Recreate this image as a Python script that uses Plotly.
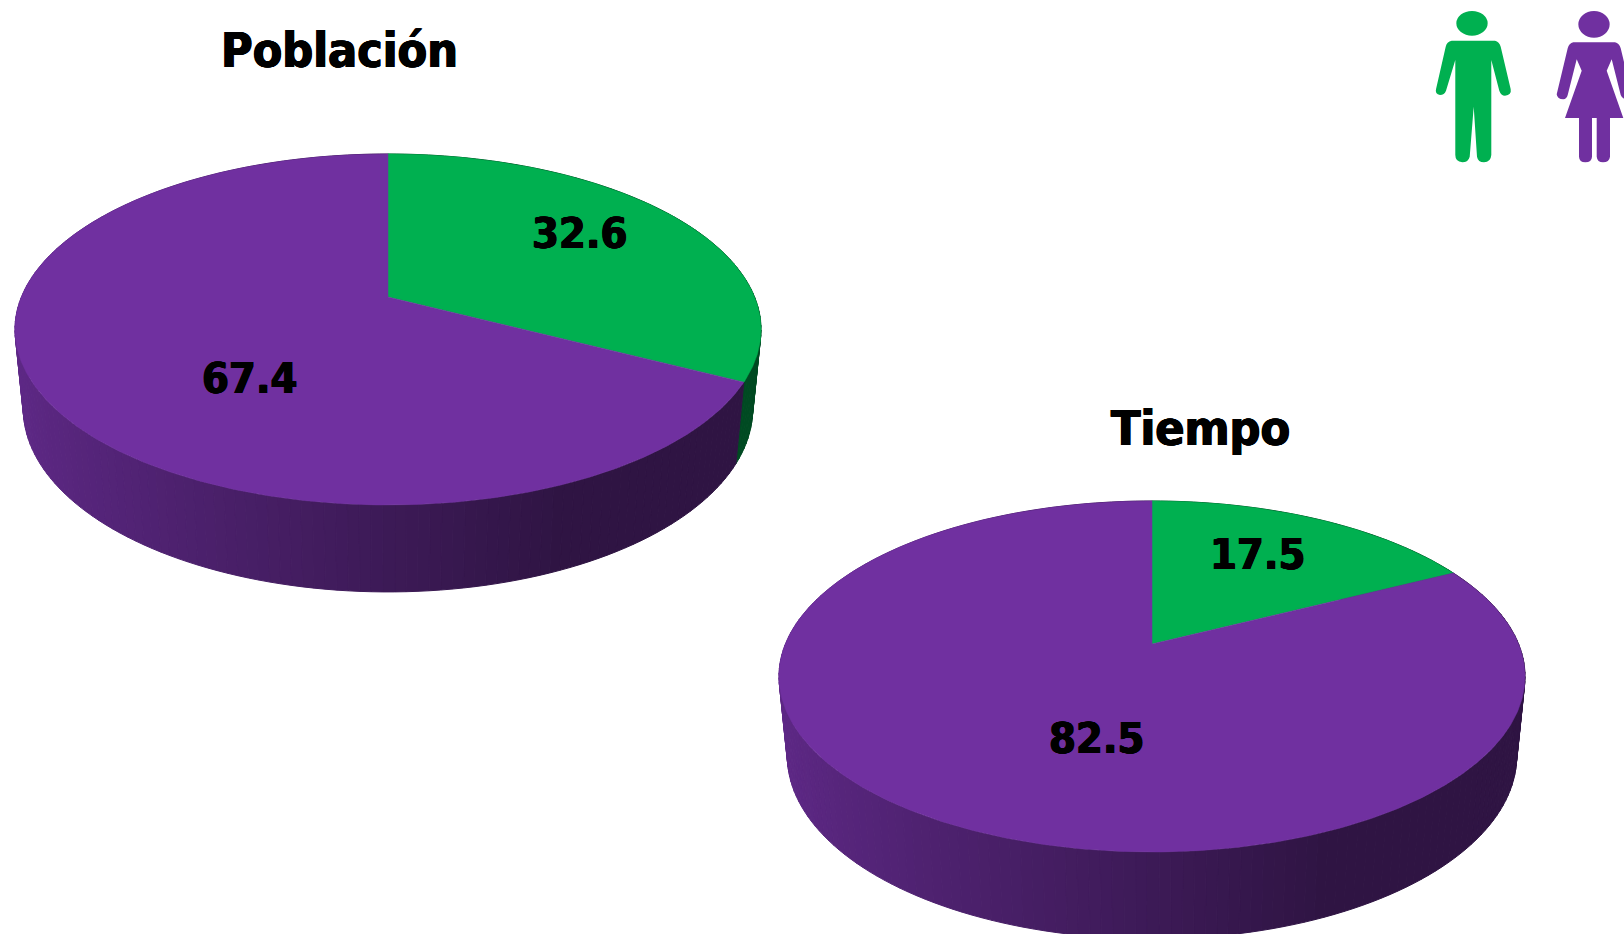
import numpy as np
import plotly.graph_objects as go

# ---- data ----
categories = ["Hombres", "Mujeres"]
titles = ["Población", "Tiempo"]
poblacion_values = [32.6, 67.4]
tiempo_values = [17.5, 82.5]

# ---- styles / layout ----
W, H = 1624, 934
GREEN, PURPLE = (0, 176, 80), (112, 48, 160)
BASE = [GREEN, PURPLE]
FONT = "DejaVu Sans Condensed, DejaVu Sans, sans-serif"
HEAVY = "0.7px 0 0 black, -0.7px 0 0 black, 0 0.4px 0 black, 0 -0.4px 0 black"
K = 0.185
TOP_S, TOP_T = 366.6, 169.5
LOW_S, LOW_T, LOW_DY = 358.4, 176.8, 78

pies = [
    dict(values=poblacion_values, title=titles[0], cx=388, cy=297,
         title_xy=(339, 50), label_xy=[(579, 233), (249, 378)]),
    dict(values=tiempo_values, title=titles[1], cx=1152, cy=644,
         title_xy=(1200, 428), label_xy=[(1257, 554), (1096, 738)]),
]


def project(theta, cx, cy, s, t, r=1.0):
    u, v = r * np.sin(theta), r * np.cos(theta)
    d = 1 + K * v
    return cx + s * u / d, cy - t * v / d


def rgb(c):
    return "rgb(%d,%d,%d)" % tuple(int(round(x)) for x in c)


def shade(base, x, cx):
    t = np.clip(((x - cx) / 373 + 1) / 1.39, 0, 1)
    f = 0.85 - 0.43 * t
    return rgb([b * f for b in base])


fig = go.Figure()
tops = []
annotations = []
for pie in pies:
    cx, cy = pie["cx"], pie["cy"]
    total = sum(pie["values"])
    edges = np.cumsum([0] + pie["values"]) / total * 2 * np.pi
    strips = []
    for i, base in enumerate(BASE):
        a0, a1 = edges[i], edges[i + 1]
        n = max(2, int((a1 - a0) / np.radians(1.5)))
        th = np.linspace(a0, a1, n + 1)
        for p, q in zip(th[:-1], th[1:]):
            mid = (p + q) / 2
            tx, ty = project(np.array([p, q]), cx, cy, TOP_S, TOP_T)
            bx, by = project(np.array([q, p]), cx, cy + LOW_DY, LOW_S, LOW_T)
            strips.append((np.cos(mid), list(tx) + list(bx) + [tx[0]],
                           list(ty) + list(by) + [ty[0]],
                           shade(base, cx + 373 * np.sin(mid), cx)))
        ang = np.linspace(a0, a1, max(3, int((a1 - a0) / np.radians(0.5))))
        ax, ay = project(ang, cx, cy, TOP_S, TOP_T)
        tops.append(([cx] + list(ax) + [cx], [cy] + list(ay) + [cy], rgb(base),
                     categories[i]))
    strips.sort(key=lambda s: -s[0])
    for _, xs, ys, col in strips:
        fig.add_trace(go.Scatter(x=xs, y=ys, mode="lines", fill="toself",
                                 fillcolor=col, line=dict(color=col, width=1),
                                 hoverinfo="skip", showlegend=False))
    annotations.append(dict(x=pie["title_xy"][0], y=pie["title_xy"][1], text="<b>%s</b>" % pie["title"],
                            showarrow=False, xanchor="center", yanchor="middle",
                            font=dict(family=FONT, size=48, color="black", shadow=HEAVY)))
    for val, (lx, ly) in zip(pie["values"], pie["label_xy"]):
        annotations.append(dict(x=lx, y=ly, text="<b>%.1f</b>" % val, showarrow=False,
                                xanchor="center", yanchor="middle",
                                font=dict(family=FONT, size=43, color="black", shadow=HEAVY)))

for xs, ys, col, name in tops:
    fig.add_trace(go.Scatter(x=xs, y=ys, mode="lines", fill="toself", fillcolor=col,
                             line=dict(color=col, width=0.5), name=name,
                             hoverinfo="name", showlegend=False))


# ---- pictograms (zoom-space outlines converted to page pixels) ----
def icon(cmds):
    out = []
    for c in cmds:
        out.append(c[0] + " ".join("%.1f,%.1f" % (1400 + x / 3, y / 3) for x, y in c[1]))
    return " ".join(out) + " Z"


man = [("M", [(155, 122)]), ("L", [(285, 122)]), ("Q", [(298, 125), (302, 140)]), ("L", [(332, 268)]),
       ("Q", [(335, 285), (315, 287)]), ("Q", [(303, 287), (298, 272)]), ("L", [(274, 180)]),
       ("L", [(274, 465)]), ("Q", [(272, 487), (252, 487)]), ("Q", [(234, 487), (231, 470)]),
       ("L", [(221, 320)]), ("L", [(209, 470)]), ("Q", [(205, 487), (187, 487)]),
       ("Q", [(166, 485), (166, 465)]), ("L", [(166, 180)]), ("L", [(138, 272)]),
       ("Q", [(133, 285), (120, 285)]), ("Q", [(104, 282), (108, 268)]), ("L", [(137, 140)]),
       ("Q", [(140, 125), (155, 122)])]
woman = [("M", [(520, 127)]), ("L", [(645, 127)]), ("Q", [(658, 130), (662, 145)]), ("L", [(695, 283)]),
         ("Q", [(692, 298), (680, 298)]), ("Q", [(667, 298), (662, 285)]), ("L", [(635, 178)]),
         ("L", [(620, 212)]), ("L", [(670, 354)]), ("L", [(630, 354)]), ("L", [(630, 470)]),
         ("Q", [(628, 487), (609, 487)]), ("Q", [(592, 487), (590, 470)]), ("L", [(590, 354)]),
         ("L", [(576, 354)]), ("L", [(576, 470)]), ("Q", [(575, 487), (556, 487)]),
         ("Q", [(538, 487), (537, 470)]), ("L", [(537, 354)]), ("L", [(495, 354)]), ("L", [(545, 212)]),
         ("L", [(530, 178)]), ("L", [(503, 285)]), ("Q", [(500, 297), (490, 298)]),
         ("Q", [(472, 298), (470, 283)]), ("L", [(503, 145)]), ("Q", [(507, 130), (520, 127)])]

shapes = [
    dict(type="path", path=icon(man), fillcolor=rgb(GREEN), line_width=0, xref="x", yref="y"),
    dict(type="circle", x0=1400 + 169 / 3, x1=1400 + 263 / 3, y0=33 / 3, y1=107 / 3,
         fillcolor=rgb(GREEN), line_width=0, xref="x", yref="y"),
    dict(type="path", path=icon(woman), fillcolor=rgb(PURPLE), line_width=0, xref="x", yref="y"),
    dict(type="circle", x0=1400 + 535 / 3, x1=1400 + 629 / 3, y0=33 / 3, y1=113 / 3,
         fillcolor=rgb(PURPLE), line_width=0, xref="x", yref="y"),
]

fig.update_layout(
    width=W, height=H, margin=dict(l=0, r=0, t=0, b=0),
    paper_bgcolor="white", plot_bgcolor="white", showlegend=False,
    xaxis=dict(range=[0, W], visible=False, fixedrange=True),
    yaxis=dict(range=[H, 0], visible=False, fixedrange=True),
    annotations=annotations, shapes=shapes,
)

fig.write_html("out.html", config=dict(displayModeBar=False),
               post_script="document.body.style.margin='0';document.body.style.overflow='hidden';")
